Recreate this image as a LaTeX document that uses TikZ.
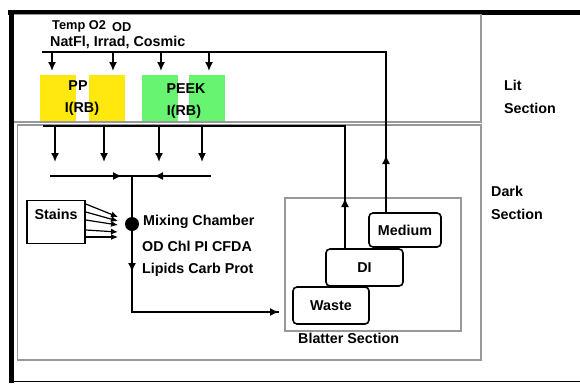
\documentclass[tikz,border=0pt]{standalone}
\usepackage{fontspec}
\setmainfont{Liberation Sans}
\usetikzlibrary{arrows.meta}
\begin{document}
\begin{tikzpicture}[x=1pt,y=-1pt,
  lbl/.style={font=\fontsize{14.3}{16}\selectfont\bfseries, inner sep=0pt},
  small/.style={font=\fontsize{12.8}{15}\selectfont\bfseries, inner sep=0pt},
  sect/.style={draw=gray!80, line width=1.4pt},
  flow/.style={line width=1.6pt},
  arr/.style={flow, -{Latex[length=9pt,width=8pt]}},
  tank/.style={draw, line width=1.6pt, rounded corners=4pt, font=\fontsize{14.3}{16}\selectfont\bfseries},
  sample/.style={inner sep=0pt, minimum width=36pt, minimum height=46pt, anchor=north west}
]
\useasboundingbox (0,0) rectangle (580,383);
% outer frame
\draw[line width=1.4pt] (10,381.5) -- (580,381.5);
\draw[line width=5pt] (8,12) -- (580,12);
\draw[line width=5.5pt] (11.5,9.5) -- (11.5,383);
% sections
\draw[sect] (14,14.5) -- (481,14.5) -- (481,122) -- (14,122);
\draw[sect] (17.5,125) rectangle (481,360);
\draw[sect, line width=1.3pt] (285,198) rectangle (461,331);
% samples
\node[sample, fill=yellow!90!orange!95] (pp1) at (40,75) {};
\node[sample, fill=yellow!90!orange!95] (pp2) at (89,75) {};
\node[sample, fill=green!85!teal!60!white] (pk1) at (142,75) {};
\node[sample, fill=green!85!teal!60!white] (pk2) at (189,75) {};
\node[lbl] (pp) at (78,86) {PP};
\node[lbl] (ppi) at (82,109) {I(RB)};
\node[lbl] (peek) at (186,89) {PEEK};
\node[lbl] (peeki) at (184,112) {I(RB)};
% labels
\node[small, anchor=west] (temp) at (52,26) {Temp O2};
\node[small, anchor=west] (od) at (112,27) {OD};
\node[lbl, anchor=west] (nat) at (50,42) {NatFl, Irrad, Cosmic};
\node[lbl, anchor=west] (lit1) at (504,85) {Lit};
\node[lbl, anchor=west] (lit2) at (504,108) {Section};
\node[lbl, anchor=west] (dark1) at (491,191) {Dark};
\node[lbl, anchor=west] (dark2) at (491,214) {Section};
% tanks
\node[tank, minimum width=72pt, minimum height=34pt] (medium) at (405,230) {Medium};
\node[tank, minimum width=77pt, minimum height=37pt] (di) at (364.5,267.5) {DI};
\node[tank, minimum width=76pt, minimum height=37pt] (waste) at (331,305.5) {Waste};
\node[lbl, anchor=west] (blatter) at (298,338) {Blatter Section};
% stains and mixing chamber
\node[draw, line width=1.6pt, minimum width=58pt, minimum height=43pt, inner sep=0pt] (stains) at (56,222) {};
\node[lbl] (stainst) at (56,214) {Stains};
\node[circle, fill=black, minimum size=14pt, inner sep=0pt] (mix) at (132,224) {};
\node[lbl, anchor=west] (mixt) at (143,222) {Mixing Chamber};
\node[lbl, anchor=west] (odt) at (142,246) {OD Chl PI CFDA};
\node[lbl, anchor=west] (lipt) at (142,270) {Lipids Carb Prot};
% coordinates
\coordinate (mtop) at (386,52);
\coordinate (tl) at (42,52);
\coordinate (dtop) at (345,126);
\coordinate (dl) at (43,126);
\coordinate (cl) at (50,176);
\coordinate (cr) at (211,176);
\coordinate (cj) at (132,176);
\coordinate (bend) at (132,312);
\coordinate (wend) at (279,312);
% medium supply line
\draw[flow] (medium.north -| mtop) -- (mtop) -- (tl);
\draw[arr] (medium.north -| mtop) -- (386,155);
\foreach \x in {52,113,161,209} {
  \coordinate (t\x) at (\x,52);
  \draw[arr] (t\x) -- (\x,71);
}
% DI supply line
\draw[flow] (di.north -| dtop) -- (dtop) -- (dl);
\draw[arr] (di.north -| dtop) -- (345,198);
\foreach \x in {55,104,159,202} {
  \coordinate (d\x) at (\x,126);
  \draw[arr] (d\x) -- (\x,162);
}
% collector
\draw[flow] (cl) -- (cr);
\draw[arr] (cl) -- (122,176);
\draw[arr] (cr) -- (154,176);
\draw[flow] (cj) -- (mix);
\draw[flow] (mix) -- (bend) -- (wend);
\draw[arr] (mix) -- (132,272);
\draw[arr] (bend) -- (wend);
% stains arrows
\foreach \ya/\yb in {204/217, 212/221, 220/225, 230/232, 237/237} {
  \draw[line width=1.2pt, -{Latex[length=7pt,width=6pt]}] (stains.east |- 0,\ya) -- (118,\yb);
}
\end{tikzpicture}
\end{document}
